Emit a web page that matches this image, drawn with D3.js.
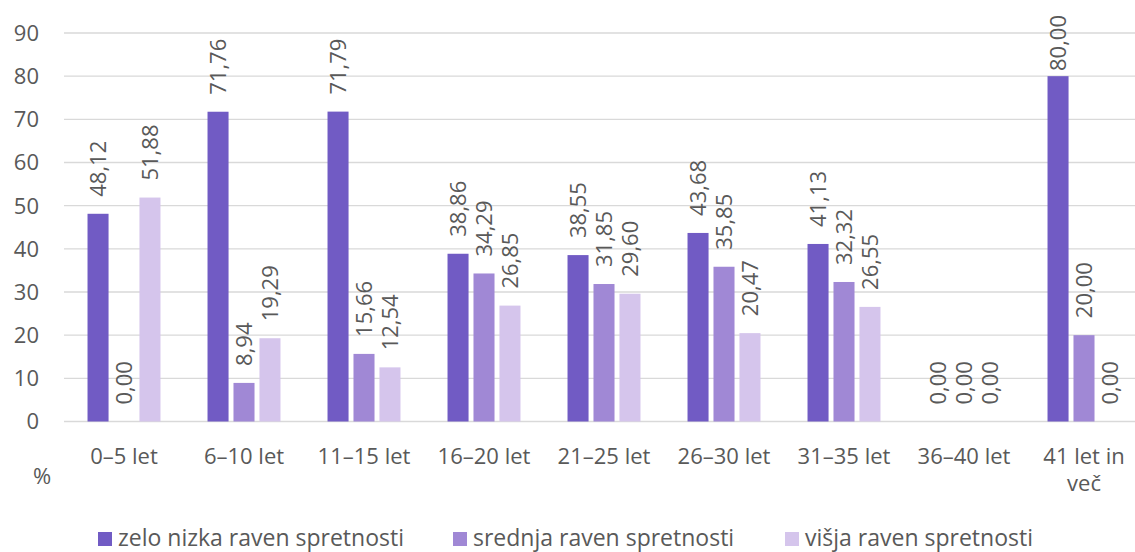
<!DOCTYPE html>
<html><head><meta charset="utf-8">
<script src="https://cdn.jsdelivr.net/npm/d3@7"></script>
<style>body{margin:0;background:#fff}svg{display:block;font-family:"Open Sans",sans-serif}</style>
</head><body><svg id="c" width="1135" height="552"></svg>
<script>
const categories = ["0–5 let","6–10 let","11–15 let","16–20 let","21–25 let","26–30 let","31–35 let","36–40 let","41 let in več"];
const seriesNames = ["zelo nizka raven spretnosti","srednja raven spretnosti","višja raven spretnosti"];
const zeloNizka = [48.12,71.76,71.79,38.86,38.55,43.68,41.13,0,80.00];
const srednja   = [0,8.94,15.66,34.29,31.85,35.85,32.32,0,20.00];
const visja     = [51.88,19.29,12.54,26.85,29.60,20.47,26.55,0,0];
const yTicks = [0,10,20,30,40,50,60,70,80,90];
const colors = ["#715bc4","#a088d5","#d5c5ec"];
const seriesValues = [zeloNizka, srednja, visja];

const svg = d3.select("#c");
const txt = "#595959";
const y = d3.scaleLinear().domain([0,90]).range([421.5,33]);
const x0 = d3.scaleBand().domain(categories).range([64,1144]).paddingInner(0.392).paddingOuter(0.196);
const x1 = d3.scaleBand().domain([0,1,2]).range([0,x0.bandwidth()]).paddingInner(0.19);

// grid
svg.append("g").selectAll("line").data(yTicks).join("line")
  .attr("x1",64).attr("x2",1135).attr("y1",d=>y(d)).attr("y2",d=>y(d))
  .attr("stroke","#d9d9d9").attr("stroke-width",1.3);
// y labels
svg.append("g").selectAll("text").data(yTicks).join("text")
  .attr("x",39).attr("y",d=>y(d)).attr("dy","0.36em").attr("text-anchor","end")
  .attr("font-size",22).attr("fill",txt).text(d=>d);

const fmt = v => v.toFixed(2).replace(".",",");
const rows = [];
categories.forEach((c,i)=>seriesValues.forEach((s,j)=>rows.push({c,j,v:s[i]})));

svg.append("g").selectAll("rect").data(rows.filter(d=>d.v>0)).join("rect")
  .attr("x",d=>x0(d.c)+x1(d.j)).attr("width",x1.bandwidth())
  .attr("y",d=>y(d.v)).attr("height",d=>y(0)-y(d.v))
  .attr("fill",d=>colors[d.j]);

const lbl = svg.append("g").selectAll("text").data(rows).join("text")
  .attr("font-size",22).attr("fill",txt).attr("text-anchor","start")
  .text(d=>fmt(d.v));
lbl.each(function(d){
  const w = this.getComputedTextLength();
  const cx = x0(d.c)+x1(d.j)+x1.bandwidth()/2;
  const bottom = Math.max(y(d.v)-17, 15+w);
  d3.select(this).attr("transform",`translate(${cx},${bottom}) rotate(-90)`).attr("dy","0.36em");
});

// category labels
const cl = svg.append("g").selectAll("text").data(categories).join("text")
  .attr("x",d=>x0(d)+x0.bandwidth()/2).attr("y",464).attr("text-anchor","middle")
  .attr("font-size",22).attr("fill",txt);
cl.each(function(d){
  const t = d3.select(this);
  if(d==="41 let in več"){
    t.append("tspan").attr("x",x0(d)+x0.bandwidth()/2).text("41 let in");
    t.append("tspan").attr("x",x0(d)+x0.bandwidth()/2).attr("dy",27).text("več");
  } else t.text(d);
});

svg.append("text").attr("x",42).attr("y",484).attr("text-anchor","middle")
  .attr("font-size",22).attr("fill",txt).text("%");

// legend
const legX = [98,453,785];
const lg = svg.append("g").selectAll("g").data(seriesNames).join("g")
  .attr("transform",(d,i)=>`translate(${legX[i]},0)`);
lg.append("rect").attr("x",0).attr("y",532).attr("width",14).attr("height",14).attr("fill",(d,i)=>colors[i]);
lg.append("text").attr("x",20).attr("y",546).attr("font-size",23).attr("fill",txt).text(d=>d);
</script></body></html>
